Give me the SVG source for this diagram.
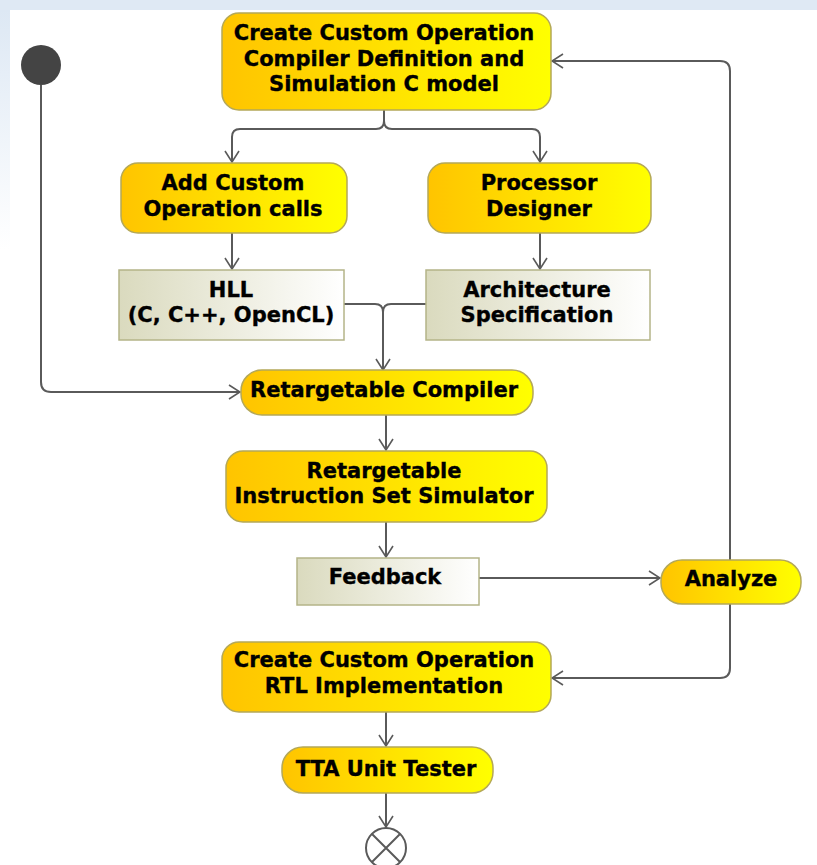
<svg xmlns="http://www.w3.org/2000/svg" width="817" height="865" viewBox="0 0 817 865">
  <defs>
    <linearGradient id="actFill" x1="0" y1="0" x2="1" y2="0">
      <stop offset="0" stop-color="#ffc400"/>
      <stop offset="1" stop-color="#ffff00"/>
    </linearGradient>
    <linearGradient id="objFill" x1="0" y1="0" x2="1" y2="0">
      <stop offset="0" stop-color="#dadabe"/>
      <stop offset="1" stop-color="#ffffff"/>
    </linearGradient>
    <linearGradient id="sideFill" x1="0" y1="0" x2="0" y2="1">
      <stop offset="0" stop-color="#dde8f4"/>
      <stop offset="1" stop-color="#ffffff"/>
    </linearGradient>
    <marker id="arrow" viewBox="0 0 13 16" refX="12" refY="8" markerWidth="13" markerHeight="16" markerUnits="userSpaceOnUse" orient="auto">
      <path d="M1,1 L12,8 L1,15" fill="none" stroke="#5a5a5a" stroke-width="1.6"/>
    </marker>
  </defs>
  <style>
    .act { fill: url(#actFill); stroke: #b4a858; stroke-width: 1.5; }
    .obj { fill: url(#objFill); stroke: #b4b488; stroke-width: 1.5; }
    .lbl { font-family: "DejaVu Sans", "Liberation Sans", sans-serif; font-weight: bold; font-size: 21px; fill: #000; stroke: #000; stroke-width: 0.35; text-anchor: middle; }
    .edge { fill: none; stroke: #5a5a5a; stroke-width: 2; }
    .to { marker-end: url(#arrow); }
  </style>

  <!-- frame -->
  <rect x="0" y="0" width="817" height="865" fill="#ffffff"/>
  <rect x="0" y="0" width="817" height="10" fill="#dfe9f4"/>
  <rect x="0" y="10" width="10" height="240" fill="url(#sideFill)"/>

  <!-- connectors -->
  <g id="connectors">
    <path class="edge to" d="M384,110 V121 Q384,129 376,129 H240 Q232,129 232,137 V162"/>
    <path class="edge to" d="M384,110 V121 Q384,129 392,129 H532 Q540,129 540,137 V162"/>
    <path class="edge to" d="M232,233 V269"/>
    <path class="edge to" d="M540,233 V269"/>
    <path class="edge" d="M344,304 H375 Q383,304 383,312"/>
    <path class="edge to" d="M426,304 H391 Q383,304 383,312 V370"/>
    <path class="edge to" d="M41,85 V382 Q41,392 51,392 H240"/>
    <path class="edge to" d="M386,415 V450"/>
    <path class="edge to" d="M386,522 V557"/>
    <path class="edge to" d="M479,578 H660"/>
    <path class="edge to" d="M730,560 V71 Q730,61 720,61 H552"/>
    <path class="edge to" d="M730,604 V668 Q730,678 720,678 H552"/>
    <path class="edge to" d="M386,712 V746"/>
    <path class="edge to" d="M386,793 V827"/>
  </g>

  <!-- start -->
  <g id="start">
    <circle cx="41" cy="65" r="20" fill="#444444"/>
  </g>

  <g id="compilerDef">
    <rect class="act" x="222" y="13" width="329" height="97" rx="17"/>
    <text class="lbl" x="384" y="40">Create Custom Operation</text>
    <text class="lbl" x="384" y="66">Compiler Definition and</text>
    <text class="lbl" x="384" y="91">Simulation C model</text>
  </g>

  <g id="addCalls">
    <rect class="act" x="121" y="163" width="226" height="70" rx="17"/>
    <text class="lbl" x="233" y="190">Add Custom</text>
    <text class="lbl" x="233" y="216">Operation calls</text>
  </g>

  <g id="procDesigner">
    <rect class="act" x="428" y="163" width="223" height="70" rx="17"/>
    <text class="lbl" x="539" y="190">Processor</text>
    <text class="lbl" x="539" y="216">Designer</text>
  </g>

  <g id="hll">
    <rect class="obj" x="119" y="270" width="225" height="70"/>
    <text class="lbl" x="231" y="297">HLL</text>
    <text class="lbl" x="231" y="322">(C, C++, OpenCL)</text>
  </g>

  <g id="archSpec">
    <rect class="obj" x="426" y="270" width="224" height="70"/>
    <text class="lbl" x="537" y="297">Architecture</text>
    <text class="lbl" x="537" y="322">Specification</text>
  </g>

  <g id="compiler">
    <rect class="act" x="241" y="370" width="292" height="45" rx="21"/>
    <text class="lbl" x="384" y="397">Retargetable Compiler</text>
  </g>

  <g id="simulator">
    <rect class="act" x="226" y="451" width="321" height="71" rx="17"/>
    <text class="lbl" x="384" y="478">Retargetable</text>
    <text class="lbl" x="384" y="503">Instruction Set Simulator</text>
  </g>

  <g id="feedback">
    <rect class="obj" x="297" y="558" width="182" height="47"/>
    <text class="lbl" x="385" y="584">Feedback</text>
  </g>

  <g id="analyze">
    <rect class="act" x="661" y="560" width="140" height="44" rx="21"/>
    <text class="lbl" x="731" y="586">Analyze</text>
  </g>

  <g id="rtlImpl">
    <rect class="act" x="222" y="642" width="329" height="70" rx="17"/>
    <text class="lbl" x="384" y="667">Create Custom Operation</text>
    <text class="lbl" x="384" y="693">RTL Implementation</text>
  </g>

  <g id="unitTester">
    <rect class="act" x="282" y="747" width="211" height="46" rx="21"/>
    <text class="lbl" x="386" y="776">TTA Unit Tester</text>
  </g>

  <!-- end -->
  <g id="end">
    <circle cx="386" cy="848" r="20" fill="#ffffff" stroke="#5a5a5a" stroke-width="2"/>
    <path d="M372,834 L400,862 M400,834 L372,862" stroke="#5a5a5a" stroke-width="2"/>
  </g>
</svg>
